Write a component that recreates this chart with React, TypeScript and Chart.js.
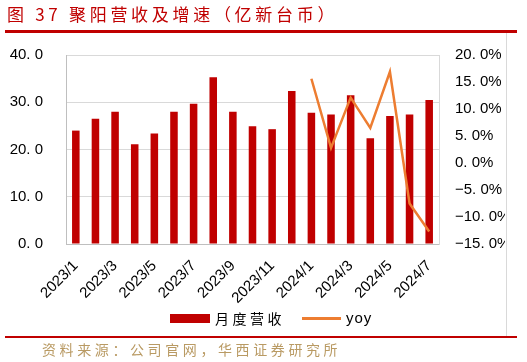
import React, { useEffect, useRef } from "react";
import { Chart, registerables } from "chart.js";

Chart.register(...registerables);

const categories = [
  "2023/1", "2023/2", "2023/3", "2023/4", "2023/5", "2023/6", "2023/7", "2023/8", "2023/9", "2023/10",
  "2023/11", "2023/12", "2024/1", "2024/2", "2024/3", "2024/4", "2024/5", "2024/6", "2024/7",
];
const revenue = [24.0, 26.5, 28.0, 21.1, 23.4, 28.0, 29.7, 35.3, 28.0, 24.9, 24.3, 32.4, 27.8, 27.4, 31.5, 22.4, 27.1, 27.4, 30.5];
const yoy = [null, null, null, null, null, null, null, null, null, null, null, null, 15.6, 2.8, 12.1, 6.5, 16.9, -7.5, -12.7];
const leftTicks = [0, 10, 20, 30, 40];
const rightTicks = [-15, -10, -5, 0, 5, 10, 15, 20];

const RED = "#c00000";
const ORANGE = "#ed7d31";
const CJK = '"Noto Sans CJK SC", "Noto Sans", sans-serif';
const LAT = '"Liberation Sans", Arial, sans-serif';

export default function App() {
  const ref = useRef<HTMLCanvasElement | null>(null);

  useEffect(() => {
    if (!ref.current) return;
    const chart = new Chart(ref.current, {
      type: "bar",
      data: {
        labels: categories,
        datasets: [
          {
            type: "line",
            label: "yoy",
            data: yoy as any,
            yAxisID: "y1",
            borderColor: ORANGE,
            backgroundColor: ORANGE,
            borderWidth: 2.5,
            pointRadius: 0,
            tension: 0,
            order: 0,
          },
          {
            type: "bar",
            label: "月度营收",
            data: revenue,
            yAxisID: "y",
            backgroundColor: RED,
            categoryPercentage: 0.8,
            barPercentage: 0.48,
            order: 1,
          },
        ],
      },
      options: {
        animation: false,
        responsive: false,
        maintainAspectRatio: false,
        layout: { padding: { top: 0, left: 0, right: 0, bottom: 0 } },
        plugins: { legend: { display: false }, tooltip: { enabled: false } },
        scales: {
          x: {
            grid: { display: false, drawTicks: false },
            border: { display: true, color: "#bfbfbf" },
            ticks: {
              autoSkip: false,
              minRotation: 45,
              maxRotation: 45,
              padding: 13,
              color: "#000",
              font: { family: LAT, size: 15 },
              callback: (v: any, i: number) => (i % 2 === 0 ? categories[i] : ""),
            },
            afterFit: (s: any) => { s.height = 66; },
          },
          y: {
            position: "left",
            min: 0,
            max: 40,
            afterBuildTicks: (s: any) => { s.ticks = leftTicks.map((v) => ({ value: v })); },
            grid: { color: "#d9d9d9", drawTicks: false },
            border: { display: true, color: "#bfbfbf" },
            ticks: {
              padding: 23,
              color: "#000",
              font: { family: LAT, size: 15 },
              callback: (v: any) => Number(v).toFixed(1).replace(".", ". "),
            },
            afterFit: (s: any) => { s.width = 66; },
          },
          y1: {
            position: "right",
            min: -15,
            max: 20,
            afterBuildTicks: (s: any) => { s.ticks = rightTicks.map((v) => ({ value: v })); },
            grid: { display: false, drawTicks: false },
            border: { display: true, color: "#d9d9d9" },
            ticks: {
              padding: 16,
              color: "#000",
              font: { family: LAT, size: 15 },
              callback: (v: any) => Number(v).toFixed(1).replace("-", "−").replace(".", ". ") + "%",
            },
            afterFit: (s: any) => { s.width = 66; },
          },
        },
      },
    });
    return () => chart.destroy();
  }, []);

  const abs = (o: React.CSSProperties): React.CSSProperties => ({ position: "absolute", ...o });

  return (
    <div style={{ position: "fixed", left: 0, top: 0, width: 527, height: 362, background: "#fff", overflow: "hidden" }}>
      <div style={abs({ left: 0, top: 23, width: 505, height: 287 })}>
        <canvas ref={ref} width={505} height={287} style={{ width: 505, height: 287, display: "block" }} />
      </div>
      <div style={abs({ left: 7, top: 3, fontFamily: CJK, fontSize: 17, lineHeight: "22px", color: RED, letterSpacing: 3.7, whiteSpace: "nowrap" })}>
        图 37 聚阳营收及增速（亿新台币）
      </div>
      <div style={abs({ left: 5, top: 30, width: 512, height: 3, background: RED })} />
      <div style={abs({ left: 506, top: 33, width: 1, height: 303, background: "#d9d9d9" })} />
      <div style={abs({ left: 170, top: 314, width: 40, height: 9, background: RED })} />
      <div style={abs({ left: 215, top: 308, fontFamily: CJK, fontSize: 14, lineHeight: "20px", letterSpacing: 3.5, color: "#000", whiteSpace: "nowrap" })}>
        月度营收
      </div>
      <div style={abs({ left: 302, top: 317, width: 39, height: 3, background: ORANGE })} />
      <div style={abs({ left: 346, top: 308, fontFamily: LAT, fontSize: 15, lineHeight: "20px", letterSpacing: 1, color: "#000", whiteSpace: "nowrap" })}>
        yoy
      </div>
      <div style={abs({ left: 5, top: 336, width: 512, height: 2, background: RED })} />
      <div style={abs({ left: 42, top: 339, fontFamily: CJK, fontSize: 14, lineHeight: "20px", letterSpacing: 3.6, color: "#b99a63", whiteSpace: "nowrap" })}>
        资料来源：公司官网，华西证券研究所
      </div>
    </div>
  );
}
